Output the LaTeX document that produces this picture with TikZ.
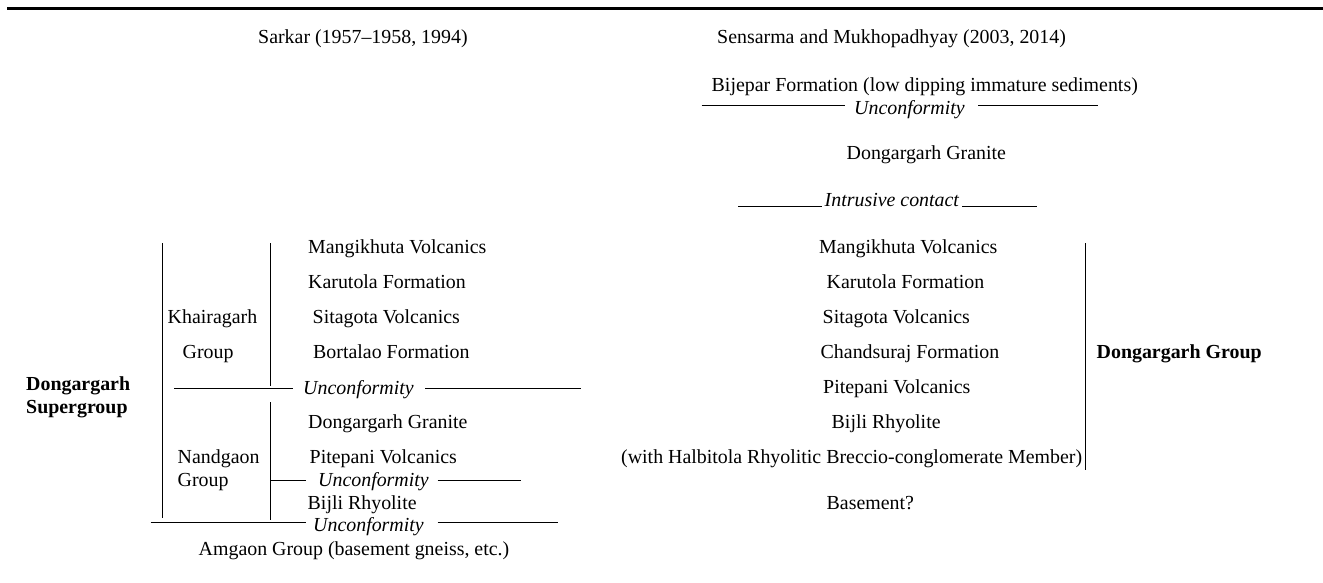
\documentclass[tikz,border=0pt]{standalone}
\usepackage{fontspec}
\setmainfont{Liberation Serif}
\usetikzlibrary{positioning}

\begin{document}
\begin{tikzpicture}[
  x=1pt, y=-1pt,
  txt/.style={inner sep=0pt, anchor=base west, font=\fontsize{19.9}{23}\selectfont},
  unc/.style={txt, font=\fontsize{19.9}{23}\selectfont\itshape},
  grp/.style={txt, font=\fontsize{19.9}{23}\selectfont\bfseries},
  bar/.style={line width=1pt},
]
\useasboundingbox (0,0) rectangle (1323,583);

\node[txt] (hdL) at (258,44) {Sarkar (1957--1958, 1994)};
\node[txt] (hdR) at (717,44) {Sensarma and Mukhopadhyay (2003, 2014)};

\node[txt] (bij)  at (711.5,92)  {Bijepar Formation (low dipping immature sediments)};
\node[unc] (uncT) at (854,115)   {Unconformity};
\node[txt] (grT)  at (846.5,160) {Dongargarh Granite};
\node[unc] (intr) at (824.5,207) {Intrusive contact};

\node[grp] (sgA) at (26,390) {Dongargarh};
\node[grp] (sgB) at (26,413) {Supergroup};
\node[txt] (khA) at (167.5,323) {Khairagarh};
\node[txt] (khB) at (182.5,358) {Group};
\node[txt] (ngA) at (177.5,463) {Nandgaon};
\node[txt] (ngB) at (177.5,486) {Group};

\node[txt] (mgL) at (308,253)   {Mangikhuta Volcanics};
\node[txt] (krL) at (308,288)   {Karutola Formation};
\node[txt] (stL) at (312.5,323) {Sitagota Volcanics};
\node[txt] (btL) at (313,358)   {Bortalao Formation};
\node[unc] (uncM) at (303,394)  {Unconformity};
\node[txt] (grL) at (308,428)   {Dongargarh Granite};
\node[txt] (ptL) at (309.5,463) {Pitepani Volcanics};
\node[unc] (uncS) at (318,486)  {Unconformity};
\node[txt] (bjL) at (307.5,509) {Bijli Rhyolite};
\node[unc] (uncB) at (313,531.5) {Unconformity};
\node[txt] (amg) at (198.5,555.5) {Amgaon Group (basement gneiss, etc.)};

\node[txt] (mgR) at (819,253)   {Mangikhuta Volcanics};
\node[txt] (krR) at (826.5,288) {Karutola Formation};
\node[txt] (stR) at (822.5,323) {Sitagota Volcanics};
\node[txt] (chR) at (820.5,358) {Chandsuraj Formation};
\node[txt] (ptR) at (823,393)   {Pitepani Volcanics};
\node[txt] (bjR) at (831.5,428) {Bijli Rhyolite};
\node[txt] (hbR) at (621,463)   {(with Halbitola Rhyolitic Breccio-conglomerate Member)};
\node[txt] (bsR) at (826.5,509) {Basement?};
\node[grp] (dgR) at (1096.5,358) {Dongargarh Group};

\draw[line width=2.5pt] (7,8.5) -- (1323,8.5);

\draw[bar] (701.5,105.5) -- (845,105.5);
\draw[bar] (978,105.5) -- (1098,105.5);
\draw[bar] (738,206.5) -- (821.5,206.5);
\draw[bar] (962,206.5) -- (1037,206.5);

\draw[bar] (162,243) -- (162,518);
\draw[bar] (270,243) -- (270,386);
\draw[bar] (270,402) -- (270,520);
\draw[bar] (174,388.5) -- (293,388.5);
\draw[bar] (425,388.5) -- (581,388.5);
\draw[bar] (270,480) -- (305.5,480);
\draw[bar] (437.5,480) -- (521,480);
\draw[bar] (150.5,522.5) -- (305.5,522.5);
\draw[bar] (437.5,522.5) -- (557.5,522.5);

\draw[bar] (1085,243) -- (1085,470);
\end{tikzpicture}
\end{document}
